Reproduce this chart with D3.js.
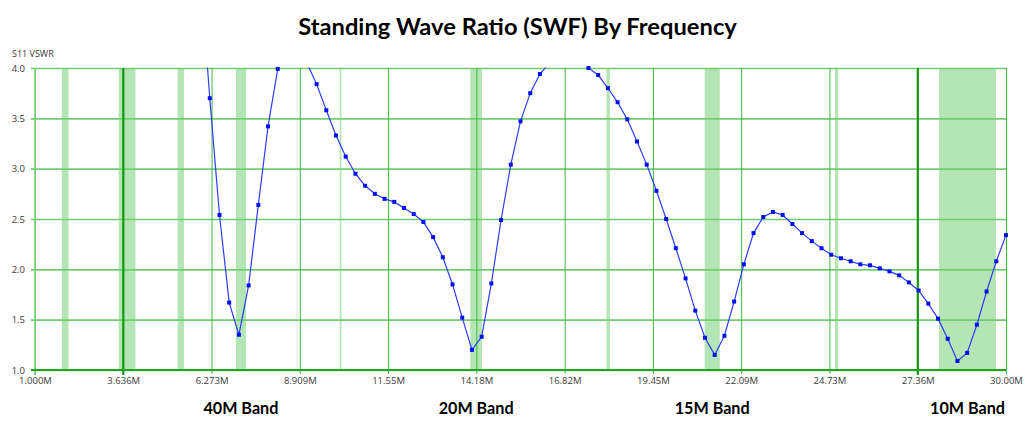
<!DOCTYPE html>
<html>
<head>
<meta charset="utf-8">
<script src="https://cdn.jsdelivr.net/npm/d3@7"></script>
<style>
  html, body { margin: 0; padding: 0; background: #ffffff; }
  svg { display: block; }
</style>
</head>
<body>
<svg id="chart" width="1030" height="427"></svg>
<script>
// ---------- data ----------
const chartTitle = "Standing Wave Ratio (SWF) By Frequency";
const yAxisTitle = "S11 VSWR";

// sweep frequencies (MHz) of the measured points
const frequencies = [
  5.93, 6.22, 6.51, 6.80, 7.09, 7.38, 7.67, 7.96, 8.25, 8.54,
  8.83, 9.12, 9.41, 9.70, 9.99, 10.28, 10.57, 10.86, 11.15, 11.44,
  11.73, 12.02, 12.31, 12.60, 12.89, 13.18, 13.47, 13.76, 14.05, 14.34,
  14.63, 14.92, 15.21, 15.50, 15.79, 16.08, 16.37, 16.66, 16.95, 17.24,
  17.53, 17.82, 18.11, 18.40, 18.69, 18.98, 19.27, 19.56, 19.85, 20.14,
  20.43, 20.72, 21.01, 21.30, 21.59, 21.88, 22.17, 22.46, 22.75, 23.04,
  23.33, 23.62, 23.91, 24.20, 24.49, 24.78, 25.07, 25.36, 25.65, 25.94,
  26.23, 26.52, 26.81, 27.10, 27.39, 27.68, 27.97, 28.26, 28.55, 28.84,
  29.13, 29.42, 29.71, 30.00
];
// S11 VSWR values (values above 4.0 run off the top of the chart)
const vswr = [
  5.00, 3.70, 2.54, 1.67, 1.35, 1.84, 2.64, 3.42, 3.99, 4.50,
  4.40, 4.05, 3.84, 3.58, 3.33, 3.12, 2.95, 2.83, 2.75, 2.70,
  2.67, 2.61, 2.55, 2.47, 2.32, 2.12, 1.85, 1.52, 1.20, 1.33,
  1.86, 2.49, 3.04, 3.47, 3.75, 3.94, 4.05, 4.10, 4.10, 4.06,
  4.00, 3.93, 3.80, 3.66, 3.49, 3.27, 3.04, 2.78, 2.50, 2.21,
  1.91, 1.59, 1.32, 1.15, 1.34, 1.68, 2.05, 2.36, 2.52, 2.57,
  2.54, 2.45, 2.36, 2.28, 2.21, 2.145, 2.11, 2.08, 2.05, 2.04,
  2.01, 1.98, 1.94, 1.87, 1.79, 1.66, 1.51, 1.31, 1.09, 1.17,
  1.45, 1.78, 2.08, 2.34
];

// amateur band segments (MHz) shaded in green
const bandStarts = [1.80, 3.50, 5.26, 7.00, 10.10, 14.00, 18.068, 21.00, 24.89, 28.00];
const bandEnds   = [2.00, 4.00, 5.45, 7.30, 10.15, 14.35, 18.168, 21.45, 24.99, 29.70];

// band captions under the axis
const bandLabels  = ["40M Band", "20M Band", "15M Band", "10M Band"];
const bandCenters = [7.15, 14.175, 21.225, 28.85];

// axis ticks
const xTickValues = [1.000, 3.636, 6.273, 8.909, 11.545, 14.182, 16.818, 19.455, 22.091, 24.727, 27.364, 30.000];
const xTickLabels = ["1.000M", "3.636M", "6.273M", "8.909M", "11.55M", "14.18M", "16.82M", "19.45M", "22.09M", "24.73M", "27.36M", "30.00M"];
const yTickValues = [1.0, 1.5, 2.0, 2.5, 3.0, 3.5, 4.0];
const yTickLabels = ["1.0", "1.5", "2.0", "2.5", "3.0", "3.5", "4.0"];
// vertical marker lines (drawn dark)
const markerFreqs = [3.636, 27.364];

// ---------- drawing ----------
const svg = d3.select("#chart");
const L = 35, R = 1006, T = 68, B = 370;
const x = d3.scaleLinear().domain([1, 30]).range([L, R]);
const y = d3.scaleLinear().domain([1, 4]).range([B, T]);
const labelFont = "'Open Sans', 'Noto Sans', sans-serif";
const titleFont = "Lato, 'Open Sans', sans-serif";

// bands
svg.append("g").selectAll("rect")
  .data(bandStarts.map((s, i) => [s, bandEnds[i]]))
  .join("rect")
  .attr("x", d => x(d[0]))
  .attr("width", d => Math.max(1.5, x(d[1]) - x(d[0])))
  .attr("y", T).attr("height", B - T)
  .attr("fill", "#b4e5b4");

// horizontal gridlines
const yGrid = svg.append("g").attr("transform", `translate(${R},0)`)
  .call(d3.axisLeft(y).tickValues(yTickValues).tickSize(R - L + 4).tickFormat(""));
yGrid.select(".domain").remove();
yGrid.selectAll("line").attr("stroke", "#72cd72").attr("stroke-width", 1.6);

// vertical gridlines
const xGrid = svg.append("g").attr("transform", `translate(0,${T})`)
  .call(d3.axisBottom(x).tickValues(xTickValues).tickSize(B - T + 4).tickFormat(""));
xGrid.select(".domain").remove();
xGrid.selectAll("line").attr("stroke", "#3fb83f").attr("stroke-width", 1);

// dark marker lines
svg.append("g").selectAll("line").data(markerFreqs).join("line")
  .attr("x1", d => x(d)).attr("x2", d => x(d))
  .attr("y1", T).attr("y2", B + 5)
  .attr("stroke", "#0c960c").attr("stroke-width", 2);

// left axis line and bottom axis line
svg.append("line").attr("x1", L).attr("x2", L).attr("y1", T).attr("y2", B + 5)
  .attr("stroke", "#7fd27f").attr("stroke-width", 1.6);
svg.append("line").attr("x1", L - 4).attr("x2", R).attr("y1", B).attr("y2", B)
  .attr("stroke", "#1ea61e").attr("stroke-width", 2);

// x tick labels
const xAxis = svg.append("g").attr("transform", `translate(0,${B})`)
  .call(d3.axisBottom(x).tickValues(xTickValues).tickSize(0)
    .tickFormat((d, i) => xTickLabels[i]));
xAxis.select(".domain").remove();
xAxis.selectAll("text").attr("dy", null).attr("y", 14)
  .attr("font-family", labelFont).attr("font-size", 9.5).attr("fill", "#3a3a3a");

// y tick labels
const yAxis = svg.append("g").attr("transform", `translate(${L},0)`)
  .call(d3.axisLeft(y).tickValues(yTickValues).tickSize(0)
    .tickFormat((d, i) => yTickLabels[i]));
yAxis.select(".domain").remove();
yAxis.selectAll("text").attr("x", -10).attr("dy", "0.35em")
  .attr("font-family", labelFont).attr("font-size", 9.5).attr("fill", "#3a3a3a");

// y axis title
svg.append("text").attr("x", 12).attr("y", 56.5).text(yAxisTitle)
  .attr("font-family", labelFont).attr("font-size", 9).attr("fill", "#3a3a3a");

// data line (clipped to plot)
svg.append("clipPath").attr("id", "plotclip").append("rect")
  .attr("x", L).attr("y", T - 0.5).attr("width", R - L + 2).attr("height", B - T + 1);
const pts = frequencies.map((f, i) => ({ f, v: vswr[i] }));
svg.append("path").datum(pts)
  .attr("clip-path", "url(#plotclip)")
  .attr("d", d3.line().x(d => x(d.f)).y(d => y(d.v)))
  .attr("fill", "none").attr("stroke", "#2b3cff").attr("stroke-width", 1.2);
svg.append("g").selectAll("rect").data(pts.filter(d => d.v <= 4.005)).join("rect")
  .attr("x", d => x(d.f) - 2).attr("y", d => y(d.v) - 2)
  .attr("width", 4).attr("height", 4).attr("fill", "#0010f0");

// title
const title = svg.append("text").attr("x", 517.5).attr("y", 35)
  .attr("text-anchor", "middle").text(chartTitle)
  .attr("font-family", titleFont).attr("font-weight", 700)
  .attr("font-size", 22).attr("fill", "#000");
const tw = title.node().getComputedTextLength();
title.attr("font-size", 22 * 439 / tw);

// band labels
const bl = svg.append("g").selectAll("text").data(bandLabels).join("text")
  .attr("x", (d, i) => x(bandCenters[i])).attr("y", 413.5)
  .attr("text-anchor", "middle").text(d => d)
  .attr("font-family", titleFont).attr("font-weight", 700)
  .attr("font-size", 16).attr("fill", "#000");
const bw = bl.node().getComputedTextLength();
bl.attr("font-size", 16 * 75 / bw);
</script>
</body>
</html>
